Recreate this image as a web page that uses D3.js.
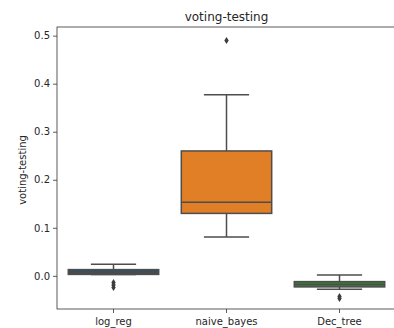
<!DOCTYPE html>
<html>
<head>
<meta charset="utf-8">
<script src="https://cdn.jsdelivr.net/npm/d3@7"></script>
<style>
  body { margin: 0; background: #fff; }
  text { font-family: "DejaVu Sans", sans-serif; fill: #262626; }
</style>
</head>
<body>
<script>
const width = 394
const height = 328

// data
const models = ["log_reg", "naive_bayes", "Dec_tree"]
const q1 = [0.003, 0.130, -0.023]
const medians = [0.006, 0.153, -0.018]
const q3 = [0.013, 0.260, -0.012]
const whiskLow = [0.003, 0.081, -0.028]
const whiskHigh = [0.024, 0.377, 0.002]
const outliers = [[-0.014, -0.019, -0.024], [0.490], [-0.043, -0.047]]
const colors = ["#3a4e5c", "#e07f26", "#3a7a3a"]
const yTicks = [0.0, 0.1, 0.2, 0.3, 0.4, 0.5]

const margin = {top: 27, right: -2, bottom: 19, left: 57}

const svg = d3.select('body').append('svg')
    .attr('width', width)
    .attr('height', height)

const x = d3.scaleBand()
    .domain(models)
    .range([margin.left, width - margin.right])
    .paddingInner(0.2)
    .paddingOuter(0.1)

const y = d3.scaleLinear()
    .domain([-0.069, 0.518])
    .range([height - margin.bottom, margin.top])

const boxes = models.map((m, i) => ({
    m, q1: q1[i], med: medians[i], q3: q3[i],
    lo: whiskLow[i], hi: whiskHigh[i], out: outliers[i], color: colors[i]
}))

const g = svg.selectAll('g.box')
    .data(boxes)
    .enter()
    .append('g')
    .attr('class', 'box')

const lineCol = '#4d4d4d'
const cx = d => x(d.m) + x.bandwidth() / 2
const capW = d => x.bandwidth() / 4

// whiskers
g.append('line')
    .attr('x1', cx).attr('x2', cx)
    .attr('y1', d => y(d.hi)).attr('y2', d => y(d.q3))
    .attr('stroke', lineCol).attr('stroke-width', 1.5)
g.append('line')
    .attr('x1', cx).attr('x2', cx)
    .attr('y1', d => y(d.q1)).attr('y2', d => y(d.lo))
    .attr('stroke', lineCol).attr('stroke-width', 1.5)
g.append('line')
    .attr('x1', d => cx(d) - capW(d)).attr('x2', d => cx(d) + capW(d))
    .attr('y1', d => y(d.hi)).attr('y2', d => y(d.hi))
    .attr('stroke', lineCol).attr('stroke-width', 1.5)
g.append('line')
    .attr('x1', d => cx(d) - capW(d)).attr('x2', d => cx(d) + capW(d))
    .attr('y1', d => y(d.lo)).attr('y2', d => y(d.lo))
    .attr('stroke', lineCol).attr('stroke-width', 1.5)

// box
g.append('rect')
    .attr('x', d => x(d.m))
    .attr('width', x.bandwidth())
    .attr('y', d => y(d.q3))
    .attr('height', d => y(d.q1) - y(d.q3))
    .attr('fill', d => d.color)
    .attr('stroke', lineCol).attr('stroke-width', 1.5)

// median
g.append('line')
    .attr('x1', d => x(d.m)).attr('x2', d => x(d.m) + x.bandwidth())
    .attr('y1', d => y(d.med)).attr('y2', d => y(d.med))
    .attr('stroke', lineCol).attr('stroke-width', 1.5)

// outliers (diamonds)
g.each(function(d) {
    d3.select(this).selectAll('path.out')
        .data(d.out)
        .enter()
        .append('path')
        .attr('class', 'out')
        .attr('d', 'M0,-3.5L2.2,0L0,3.5L-2.2,0Z')
        .attr('transform', v => `translate(${cx(d)},${y(v)})`)
        .attr('fill', '#3d3d3d')
})

// axes
svg.append('g')
    .attr('transform', `translate(${margin.left},0)`)
    .call(d3.axisLeft(y).tickValues(yTicks).tickFormat(d3.format('.1f')).tickSize(4).tickPadding(3))
svg.append('g')
    .attr('transform', `translate(0,${height - margin.bottom})`)
    .call(d3.axisBottom(x).tickSize(4).tickPadding(5))

svg.selectAll('.domain').remove()
svg.selectAll('.tick line').attr('stroke', '#333').attr('stroke-width', 0.8)
svg.selectAll('.tick text').style('font-size', '10px').attr('fill', '#262626')

// frame
svg.append('rect')
    .attr('x', margin.left)
    .attr('y', margin.top)
    .attr('width', width - margin.right - margin.left)
    .attr('height', height - margin.bottom - margin.top)
    .attr('fill', 'none')
    .attr('stroke', '#333').attr('stroke-width', 0.8)

// title
svg.append('text')
    .attr('x', (margin.left + width - margin.right) / 2)
    .attr('y', 21)
    .attr('text-anchor', 'middle')
    .style('font-size', '12px')
    .text('voting-testing')

// y label
svg.append('text')
    .attr('transform', `translate(26,${(margin.top + height - margin.bottom) / 2 + 2}) rotate(-90)`)
    .attr('text-anchor', 'middle')
    .style('font-size', '10px')
    .text('voting-testing')
</script>
</body>
</html>
